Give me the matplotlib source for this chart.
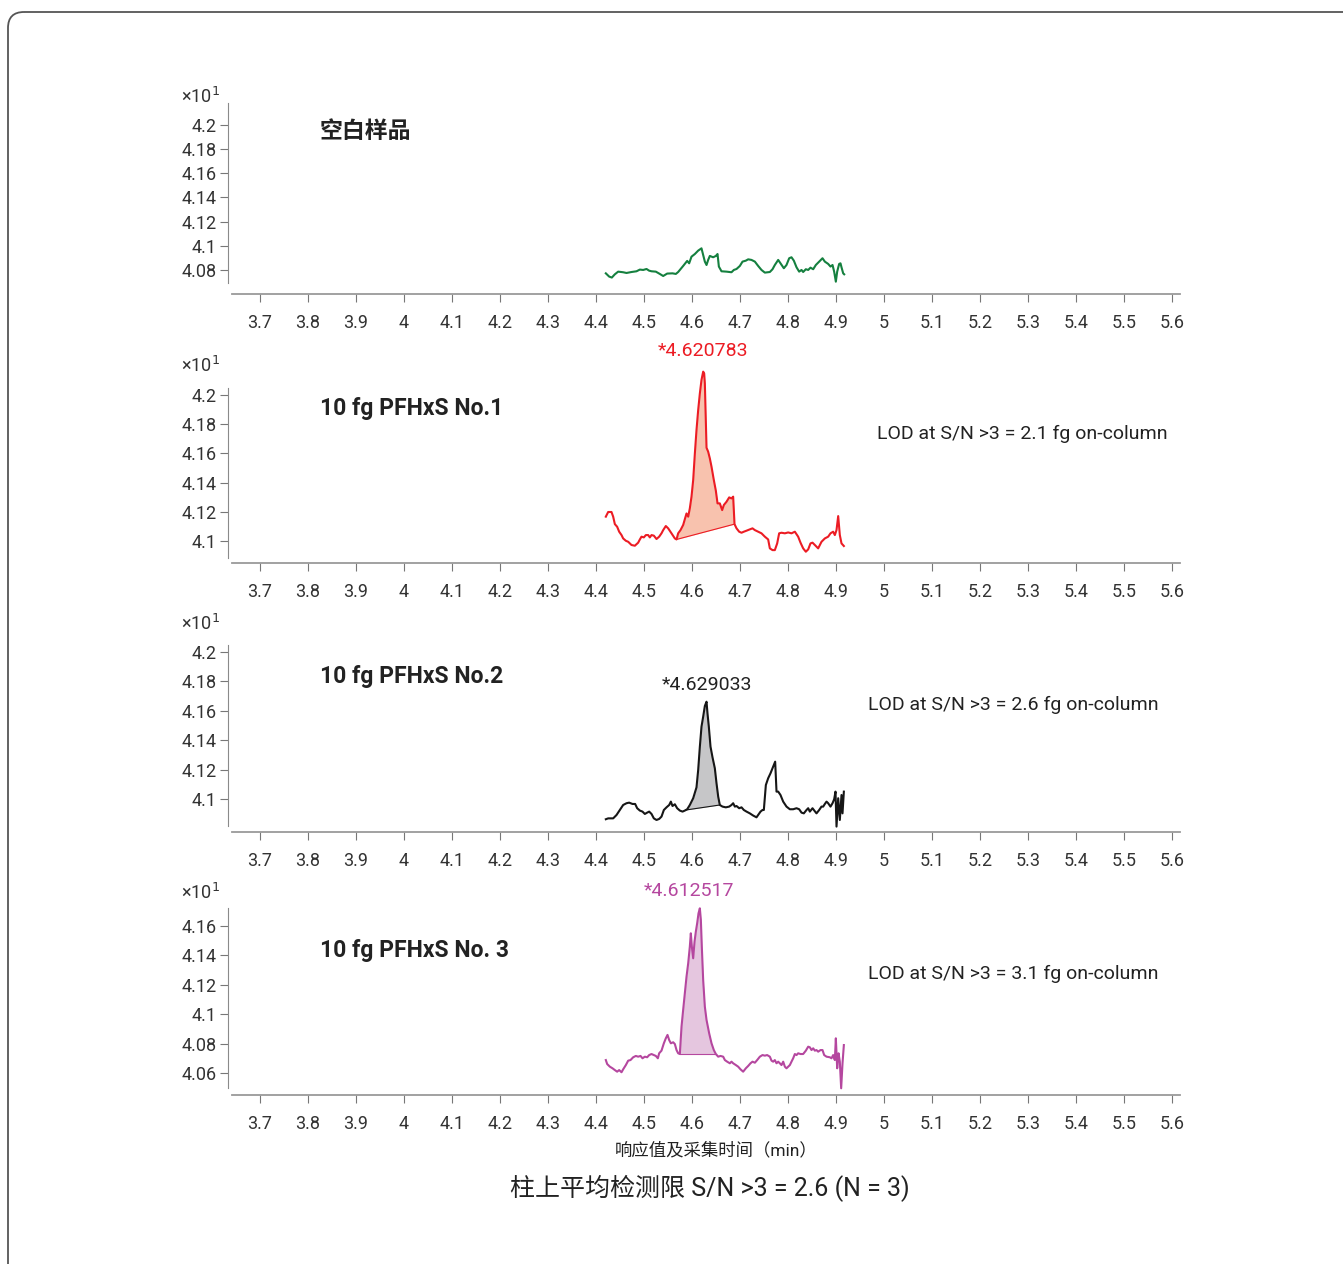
import numpy as np
import matplotlib.pyplot as plt
from matplotlib.patches import FancyBboxPatch

plt.rcParams['font.family'] = ['Roboto', 'Noto Sans CJK SC', 'DejaVu Sans']

W, H = 1343, 1264

# ---- data (retention time in min, response x10^1) ----
xticks = [3.7, 3.8, 3.9, 4.0, 4.1, 4.2, 4.3, 4.4, 4.5, 4.6, 4.7, 4.8, 4.9,
          5.0, 5.1, 5.2, 5.3, 5.4, 5.5, 5.6]

blank_t = [4.4208, 4.4278, 4.4333, 4.4396, 4.4465, 4.4569, 4.4639, 4.4743, 4.4847, 4.4917,
           4.4986, 4.5056, 4.5111, 4.5160, 4.5250, 4.5333, 4.5403, 4.5486, 4.5597, 4.5667,
           4.5715, 4.5819, 4.5903, 4.5944, 4.5993, 4.6063, 4.6132, 4.6201, 4.6236, 4.6271,
           4.6306, 4.6340, 4.6375, 4.6444, 4.6500, 4.6535, 4.6563, 4.6618, 4.6722, 4.6826,
           4.6875, 4.6931, 4.7000, 4.7056, 4.7125, 4.7174, 4.7243, 4.7313, 4.7382, 4.7451,
           4.7521, 4.7625, 4.7681, 4.7729, 4.7799, 4.7847, 4.7917, 4.7972, 4.8028, 4.8076,
           4.8125, 4.8181, 4.8236, 4.8285, 4.8319, 4.8375, 4.8424, 4.8472, 4.8528, 4.8583,
           4.8653, 4.8722, 4.8771, 4.8840, 4.8889, 4.8931, 4.8965, 4.9000, 4.9028, 4.9069,
           4.9097, 4.9118, 4.9153, 4.9174]
blank_y = [4.0772, 4.0745, 4.0737, 4.0764, 4.0786, 4.0781, 4.0775, 4.0783, 4.0789, 4.0803,
           4.0800, 4.0808, 4.0794, 4.0789, 4.0786, 4.0767, 4.0750, 4.0770, 4.0772, 4.0767,
           4.0783, 4.0833, 4.0875, 4.0855, 4.0910, 4.0932, 4.0960, 4.0979, 4.0924, 4.0869,
           4.0841, 4.0883, 4.0916, 4.0905, 4.0916, 4.0932, 4.0828, 4.0789, 4.0786, 4.0781,
           4.0800, 4.0808, 4.0833, 4.0869, 4.0877, 4.0888, 4.0883, 4.0869, 4.0833, 4.0800,
           4.0778, 4.0783, 4.0806, 4.0841, 4.0883, 4.0855, 4.0814, 4.0841, 4.0897, 4.0905,
           4.0877, 4.0822, 4.0786, 4.0800, 4.0783, 4.0806, 4.0800, 4.0819, 4.0806, 4.0841,
           4.0869, 4.0897, 4.0869, 4.0850, 4.0828, 4.0841, 4.0786, 4.0703, 4.0786, 4.0850,
           4.0855, 4.0822, 4.0772, 4.0764]

s1_t = [4.4208, 4.4257, 4.4326, 4.4361, 4.4396, 4.4444, 4.4486, 4.4535, 4.4569, 4.4625,
        4.4674, 4.4743, 4.4813, 4.4882, 4.4917, 4.4951, 4.5000, 4.5042, 4.5090, 4.5125,
        4.5160, 4.5208, 4.5264, 4.5319, 4.5368, 4.5403, 4.5458, 4.5507, 4.5576, 4.5646,
        4.5681, 4.5715, 4.5764, 4.5819, 4.5889, 4.5924, 4.5958, 4.5993, 4.6028, 4.6063,
        4.6097, 4.6132, 4.6167, 4.6201, 4.6236, 4.6257, 4.6271, 4.6306, 4.6340, 4.6375,
        4.6410, 4.6458, 4.6500, 4.6535, 4.6583, 4.6632, 4.6667, 4.6722, 4.6778, 4.6826,
        4.6861, 4.6889, 4.6931, 4.6986, 4.7035, 4.7083, 4.7139, 4.7208, 4.7264, 4.7313,
        4.7382, 4.7451, 4.7521, 4.7590, 4.7625, 4.7681, 4.7729, 4.7778, 4.7819, 4.7868,
        4.7938, 4.8007, 4.8076, 4.8146, 4.8215, 4.8264, 4.8319, 4.8375, 4.8424, 4.8472,
        4.8514, 4.8563, 4.8632, 4.8701, 4.8771, 4.8840, 4.8889, 4.8944, 4.8979, 4.9014,
        4.9049, 4.9083, 4.9118, 4.9167]
s1_y = [4.1167, 4.1199, 4.1199, 4.1167, 4.1116, 4.1098, 4.1064, 4.1041, 4.1018, 4.1002,
        4.0995, 4.0973, 4.0968, 4.0989, 4.1011, 4.1030, 4.1025, 4.1041, 4.1041, 4.1025,
        4.1041, 4.1037, 4.1014, 4.1030, 4.1053, 4.1075, 4.1103, 4.1087, 4.1053, 4.1018,
        4.1011, 4.1053, 4.1075, 4.1110, 4.1189, 4.1167, 4.1224, 4.1304, 4.1418, 4.1600,
        4.1760, 4.1897, 4.2011, 4.2103, 4.2160, 4.2148, 4.2080, 4.1639, 4.1612, 4.1566,
        4.1509, 4.1418, 4.1345, 4.1258, 4.1258, 4.1212, 4.1247, 4.1269, 4.1299, 4.1292,
        4.1304, 4.1116, 4.1087, 4.1064, 4.1057, 4.1064, 4.1071, 4.1080, 4.1087, 4.1075,
        4.1064, 4.1053, 4.1030, 4.1011, 4.0950, 4.0938, 4.0938, 4.0984, 4.1053, 4.1057,
        4.1053, 4.1059, 4.1053, 4.1064, 4.1030, 4.0989, 4.0950, 4.0927, 4.0943, 4.0984,
        4.0989, 4.0973, 4.0950, 4.0995, 4.1018, 4.1030, 4.1053, 4.1064, 4.1041, 4.1075,
        4.1171, 4.1041, 4.0984, 4.0966]

s2_t = [4.4208, 4.4257, 4.4361, 4.4431, 4.4500, 4.4569, 4.4639, 4.4694, 4.4764, 4.4819,
        4.4861, 4.4917, 4.4972, 4.5021, 4.5069, 4.5111, 4.5160, 4.5208, 4.5264, 4.5319,
        4.5368, 4.5417, 4.5472, 4.5528, 4.5563, 4.5597, 4.5646, 4.5694, 4.5750, 4.5806,
        4.5854, 4.5903, 4.5958, 4.6028, 4.6097, 4.6132, 4.6167, 4.6201, 4.6236, 4.6271,
        4.6306, 4.6326, 4.6354, 4.6389, 4.6431, 4.6479, 4.6514, 4.6549, 4.6583, 4.6639,
        4.6708, 4.6778, 4.6826, 4.6861, 4.6896, 4.6931, 4.6986, 4.7035, 4.7083, 4.7139,
        4.7208, 4.7278, 4.7347, 4.7431, 4.7472, 4.7500, 4.7542, 4.7590, 4.7639, 4.7694,
        4.7736, 4.7764, 4.7799, 4.7847, 4.7903, 4.7972, 4.8042, 4.8111, 4.8181, 4.8236,
        4.8285, 4.8333, 4.8389, 4.8424, 4.8458, 4.8514, 4.8542, 4.8597, 4.8653, 4.8701,
        4.8736, 4.8771, 4.8806, 4.8840, 4.8889, 4.8931, 4.8965, 4.8993, 4.9014, 4.9049,
        4.9083, 4.9118, 4.9139, 4.9167]
s2_y = [4.0862, 4.0868, 4.0868, 4.0891, 4.0925, 4.0959, 4.0971, 4.0975, 4.0966, 4.0966,
        4.0937, 4.0921, 4.0914, 4.0898, 4.0907, 4.0914, 4.0898, 4.0868, 4.0857, 4.0864,
        4.0880, 4.0925, 4.0943, 4.0959, 4.0982, 4.0952, 4.0964, 4.0937, 4.0921, 4.0914,
        4.0921, 4.0930, 4.0959, 4.1005, 4.1079, 4.1197, 4.1356, 4.1492, 4.1560, 4.1633,
        4.1662, 4.1583, 4.1492, 4.1356, 4.1283, 4.1209, 4.1107, 4.1016, 4.0959, 4.0948,
        4.0943, 4.0948, 4.0959, 4.0971, 4.0948, 4.0952, 4.0937, 4.0943, 4.0925, 4.0914,
        4.0902, 4.0887, 4.0875, 4.0914, 4.0925, 4.0925, 4.1095, 4.1141, 4.1175, 4.1220,
        4.1254, 4.1050, 4.1050, 4.1027, 4.0982, 4.0948, 4.0930, 4.0930, 4.0937, 4.0930,
        4.0907, 4.0902, 4.0925, 4.0937, 4.0914, 4.0937, 4.0925, 4.0902, 4.0925, 4.0948,
        4.0948, 4.0966, 4.0982, 4.0971, 4.0948, 4.0971, 4.0998, 4.1050, 4.0812, 4.1005,
        4.0857, 4.1027, 4.0902, 4.1050]

s3_t = [4.4208, 4.4236, 4.4292, 4.4347, 4.4396, 4.4444, 4.4486, 4.4535, 4.4569, 4.4625,
        4.4674, 4.4722, 4.4778, 4.4833, 4.4882, 4.4931, 4.4972, 4.5021, 4.5069, 4.5111,
        4.5160, 4.5208, 4.5250, 4.5292, 4.5319, 4.5368, 4.5417, 4.5458, 4.5493, 4.5528,
        4.5563, 4.5611, 4.5646, 4.5681, 4.5715, 4.5750, 4.5785, 4.5819, 4.5854, 4.5889,
        4.5924, 4.5958, 4.5979, 4.6000, 4.6028, 4.6056, 4.6083, 4.6111, 4.6139, 4.6167,
        4.6188, 4.6208, 4.6236, 4.6271, 4.6306, 4.6361, 4.6410, 4.6458, 4.6500, 4.6549,
        4.6597, 4.6653, 4.6688, 4.6736, 4.6792, 4.6826, 4.6861, 4.6917, 4.6965, 4.7014,
        4.7069, 4.7125, 4.7174, 4.7222, 4.7264, 4.7313, 4.7361, 4.7417, 4.7472, 4.7521,
        4.7569, 4.7625, 4.7660, 4.7694, 4.7729, 4.7764, 4.7799, 4.7833, 4.7868, 4.7903,
        4.7938, 4.7972, 4.8007, 4.8042, 4.8076, 4.8111, 4.8146, 4.8181, 4.8215, 4.8264,
        4.8319, 4.8375, 4.8424, 4.8458, 4.8493, 4.8528, 4.8563, 4.8597, 4.8632, 4.8681,
        4.8722, 4.8757, 4.8806, 4.8875, 4.8910, 4.8944, 4.8979, 4.9000, 4.9028, 4.9056,
        4.9083, 4.9111, 4.9139, 4.9167]
s3_y = [4.0688, 4.0661, 4.0643, 4.0632, 4.0620, 4.0609, 4.0620, 4.0605, 4.0625, 4.0654,
        4.0684, 4.0688, 4.0707, 4.0716, 4.0711, 4.0716, 4.0700, 4.0711, 4.0707, 4.0722,
        4.0729, 4.0722, 4.0716, 4.0700, 4.0734, 4.0752, 4.0802, 4.0836, 4.0859, 4.0824,
        4.0802, 4.0809, 4.0797, 4.0756, 4.0734, 4.0729, 4.0915, 4.1029, 4.1142, 4.1255,
        4.1346, 4.1459, 4.1550, 4.1459, 4.1380, 4.1493, 4.1561, 4.1618, 4.1686, 4.1720,
        4.1641, 4.1459, 4.1233, 4.1051, 4.0961, 4.0870, 4.0802, 4.0756, 4.0729, 4.0711,
        4.0716, 4.0711, 4.0688, 4.0677, 4.0666, 4.0677, 4.0666, 4.0654, 4.0643, 4.0625,
        4.0609, 4.0632, 4.0648, 4.0666, 4.0677, 4.0670, 4.0688, 4.0711, 4.0722, 4.0718,
        4.0722, 4.0711, 4.0684, 4.0677, 4.0688, 4.0666, 4.0677, 4.0666, 4.0654, 4.0677,
        4.0643, 4.0632, 4.0643, 4.0654, 4.0677, 4.0700, 4.0729, 4.0722, 4.0734, 4.0729,
        4.0729, 4.0752, 4.0779, 4.0775, 4.0756, 4.0768, 4.0752, 4.0756, 4.0745, 4.0756,
        4.0756, 4.0722, 4.0711, 4.0707, 4.0700, 4.0722, 4.0688, 4.0836, 4.0632, 4.0734,
        4.0677, 4.0496, 4.0666, 4.0790]

peak_rt = ['*4.620783', '*4.629033', '*4.612517']
lod = [2.1, 2.6, 3.1]

panels = [
    dict(t=blank_t, y=blank_y, color='#15803f', title='空白样品', title_y=132, mult_y=97,
         top=103, bottom=283, ylim=(4.0692, 4.2182), yticks=[4.08, 4.10, 4.12, 4.14, 4.16, 4.18, 4.20],
         xaxis_px=294),
    dict(t=s1_t, y=s1_y, color='#ec1c24', fill='#f8c2ae', span=(4.5681, 4.6889),
         title='10 fg PFHxS No.1', title_y=409, mult_y=366, top=388, bottom=558,
         ylim=(4.0884, 4.2048), yticks=[4.10, 4.12, 4.14, 4.16, 4.18, 4.20], xaxis_px=563,
         peak=(peak_rt[0], '#ec1c24', 703, 351), lod=(lod[0], 1168, 434)),
    dict(t=s2_t, y=s2_y, color='#161616', fill='#c6c6c8', span=(4.5875, 4.6583),
         title='10 fg PFHxS No.2', title_y=676, mult_y=624, top=645, bottom=826,
         ylim=(4.0816, 4.2048), yticks=[4.10, 4.12, 4.14, 4.16, 4.18, 4.20], xaxis_px=832,
         peak=(peak_rt[1], '#222222', 707, 685), lod=(lod[1], 1159, 705)),
    dict(t=s3_t, y=s3_y, color='#b5479f', fill='#e5c6df', span=(4.5750, 4.6500),
         title='10 fg PFHxS No. 3', title_y=950, mult_y=893, top=908, bottom=1088,
         ylim=(4.0498, 4.1722), yticks=[4.06, 4.08, 4.10, 4.12, 4.14, 4.16], xaxis_px=1095,
         peak=(peak_rt[2], '#b5479f', 689, 891), lod=(lod[2], 1158, 974)),
]

fig = plt.figure(figsize=(W / 100, H / 100), dpi=100)

# background layer in pixel coordinates for the frame and free text
bg = fig.add_axes([0, 0, 1, 1])
bg.set_xlim(0, W)
bg.set_ylim(H, 0)
bg.axis('off')
bg.add_patch(FancyBboxPatch((8, 12), 1400, 1300, boxstyle='round,pad=0,rounding_size=16',
                            fill=False, ec='#555555', lw=1.3))

px2pt = 0.72
for p in panels:
    ax = fig.add_axes([232 / W, 1 - p['bottom'] / H, 948 / W, (p['bottom'] - p['top']) / H])
    ax.set_facecolor('none')
    t = np.array(p['t'])
    y = np.array(p['y'])
    ax.plot(t, y, color=p['color'], lw=1.5, clip_on=False, zorder=3)
    if 'span' in p:
        m = (t >= p['span'][0]) & (t <= p['span'][1])
        ends = np.interp(p['span'], t, y)
        base = np.interp(t[m], p['span'], ends)
        ax.fill_between(t[m], base, y[m], color=p['fill'], lw=0, zorder=2, clip_on=False)
        ax.plot(p['span'], ends, color=p['color'], lw=0.8, zorder=3)
    ax.set_xlim(3.642, 5.617)
    ax.set_ylim(*p['ylim'])
    for s in ['top', 'right']:
        ax.spines[s].set_visible(False)
    ax.spines['left'].set_position(('outward', 4 * px2pt))
    ax.spines['left'].set_color('#8a8a8a')
    ax.spines['bottom'].set_position(('outward', (p['xaxis_px'] - p['bottom']) * px2pt))
    ax.spines['bottom'].set_color('#9a9a9a')
    ax.spines['bottom'].set_linewidth(1.3)
    ax.set_xticks(xticks)
    ax.set_xticklabels(['%g' % v for v in xticks])
    ax.set_yticks(p['yticks'])
    ax.set_yticklabels(['%g' % v for v in p['yticks']])
    ax.tick_params(axis='x', length=8 * px2pt, pad=12 * px2pt, color='#777777',
                   labelsize=13, labelcolor='#333333')
    ax.tick_params(axis='y', length=8 * px2pt, pad=3 * px2pt, color='#777777',
                   labelsize=13, labelcolor='#333333')

    bg.text(181, p['mult_y'], '×10$^{1}$', fontsize=13, color='#333333', va='center', ha='left')
    bg.text(320, p['title_y'], p['title'], fontsize=16.5,
            fontweight='bold', color='#222222', va='center', ha='left')
    if 'peak' in p:
        lab, c, xp, yp = p['peak']
        bg.text(xp, yp, lab, fontsize=14, color=c, ha='center', va='center')
        v, xp, yp = p['lod']
        bg.text(xp, yp, 'LOD at S/N >3 = %g fg on-column' % v, fontsize=14,
                color='#222222', ha='right', va='center')

bg.text(716, 1150, '响应值及采集时间（min）', fontsize=12.5, color='#222222', ha='center', va='center')
bg.text(710, 1188, '柱上平均检测限 S/N >3 = 2.6 (N = 3)', fontsize=18, color='#222222',
        ha='center', va='center')

fig.savefig('out.png', dpi=100)
